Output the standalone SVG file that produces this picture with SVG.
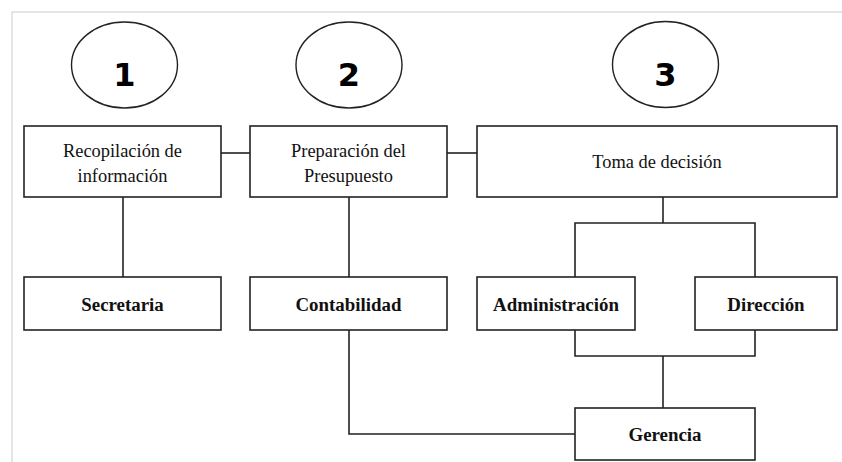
<svg xmlns="http://www.w3.org/2000/svg" width="842" height="462" viewBox="0 0 842 462">
<style>
.box{fill:#fff;stroke:#222;stroke-width:1.6}
.ell{fill:#fff;stroke:#222;stroke-width:1.4}
.ln{fill:none;stroke:#222;stroke-width:1.6}
.t{font-family:"Liberation Serif","Times New Roman",serif;font-size:18.4px;fill:#111;text-anchor:middle}
.b{font-weight:bold;font-size:18.9px}
.n{font-family:"DejaVu Sans","Liberation Sans",sans-serif;font-weight:bold;font-size:32px;fill:#000;text-anchor:middle}
</style>
<rect width="842" height="462" fill="#fff"/>
<path d="M12,462 V12 H842" fill="none" stroke="#ddd" stroke-width="1.5"/>
<g id="connectors">
<line class="ln" x1="221" y1="153" x2="250" y2="153"/>
<line class="ln" x1="447" y1="153" x2="477" y2="153"/>
<line class="ln" x1="123" y1="197" x2="123" y2="277"/>
<line class="ln" x1="349" y1="197" x2="349" y2="277"/>
<polyline class="ln" points="349,330 349,434 575,434"/>
<line class="ln" x1="663" y1="197" x2="663" y2="223"/>
<polyline class="ln" points="575,277 575,223 755,223 755,277"/>
<polyline class="ln" points="575,330 575,356 755,356 755,330"/>
<line class="ln" x1="663" y1="356" x2="663" y2="408"/>
</g>
<g id="step1"><ellipse class="ell" cx="124.5" cy="65" rx="53" ry="43"/><text class="n" x="124.5" y="86">1</text></g>
<g id="step2"><ellipse class="ell" cx="349" cy="65" rx="53" ry="43"/><text class="n" x="349" y="86">2</text></g>
<g id="step3"><ellipse class="ell" cx="665.5" cy="64.5" rx="53" ry="43"/><text class="n" x="665.5" y="86">3</text></g>
<g id="recopilacion"><rect class="box" x="24" y="126" width="197" height="71"/><text class="t" x="122.5" y="157">Recopilación de</text><text class="t" x="122.5" y="182">información</text></g>
<g id="preparacion"><rect class="box" x="250" y="126" width="197" height="71"/><text class="t" x="348.5" y="157">Preparación del</text><text class="t" x="348.5" y="182">Presupuesto</text></g>
<g id="toma"><rect class="box" x="477" y="126" width="360" height="71"/><text class="t" x="657" y="168">Toma de decisión</text></g>
<g id="secretaria"><rect class="box" x="24" y="277" width="197" height="53"/><text class="t b" x="122.5" y="311">Secretaria</text></g>
<g id="contabilidad"><rect class="box" x="250" y="277" width="197" height="53"/><text class="t b" x="348.5" y="311">Contabilidad</text></g>
<g id="administracion"><rect class="box" x="477" y="277" width="158" height="53"/><text class="t b" x="556" y="311">Administración</text></g>
<g id="direccion"><rect class="box" x="695" y="277" width="142" height="53"/><text class="t b" x="766" y="311">Dirección</text></g>
<g id="gerencia"><rect class="box" x="575" y="408" width="180" height="52"/><text class="t b" x="665" y="441">Gerencia</text></g>
</svg>
